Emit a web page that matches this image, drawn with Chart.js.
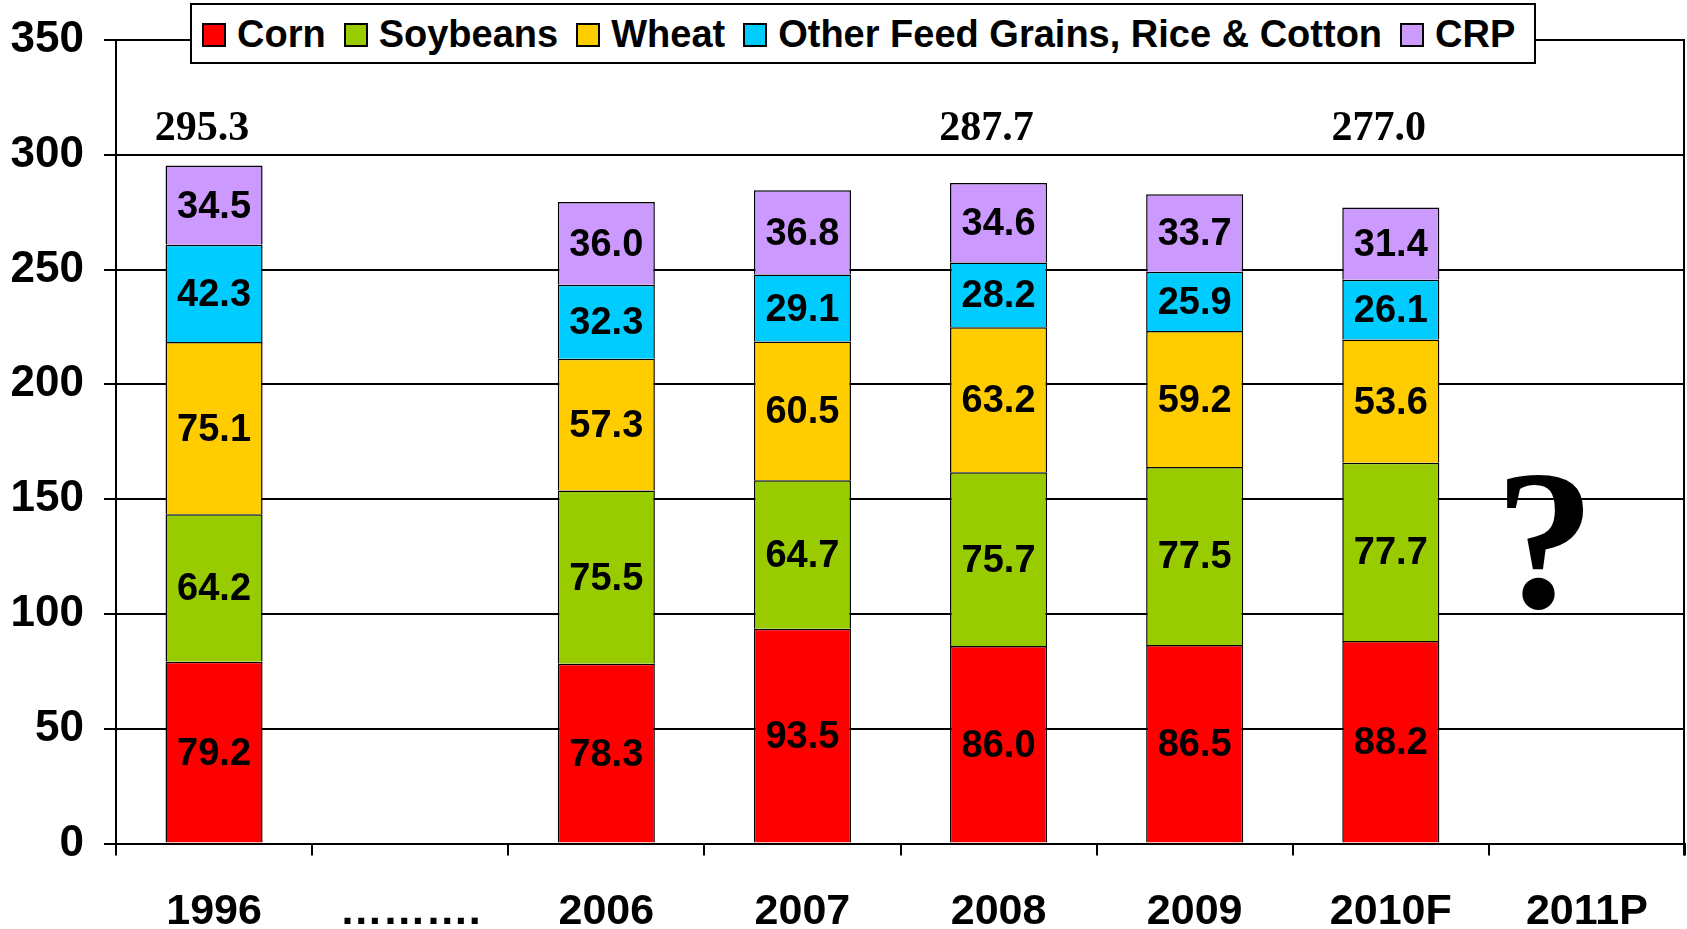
<!DOCTYPE html>
<html>
<head>
<meta charset="utf-8">
<script src="https://cdn.jsdelivr.net/npm/chart.js@4"></script>
<style>
  html, body { margin: 0; padding: 0; background: #fff; }
  #wrap { position: relative; width: 1687px; height: 929px; overflow: hidden; }
  #legend {
    position: absolute; left: 190px; top: 3px; width: 1342px; height: 55px;
    border: 2px solid #000; background: #fff; box-sizing: content-box;
    display: flex; align-items: center; padding-left: 0; padding-top: 2px;
    font: bold 38px "Liberation Sans", Arial, sans-serif; color: #000;
  }
  .item { display: flex; align-items: center; margin-left: 10px; margin-right: 8px; white-space: nowrap; }
  .sw { width: 20px; height: 20px; border: 2px solid #000; margin-right: 11px; }
</style>
</head>
<body>
<div id="wrap">
  <canvas id="c" width="1687" height="929"></canvas>
  <div id="legend"></div>
</div>
<script>
const categories = ['1996', '……….', '2006', '2007', '2008', '2009', '2010F', '2011P'];
const corn     = [79.2, null, 78.3, 93.5, 86.0, 86.5, 88.2, null];
const soybeans = [64.2, null, 75.5, 64.7, 75.7, 77.5, 77.7, null];
const wheat    = [75.1, null, 57.3, 60.5, 63.2, 59.2, 53.6, null];
const other    = [42.3, null, 32.3, 29.1, 28.2, 25.9, 26.1, null];
const crp      = [34.5, null, 36.0, 36.8, 34.6, 33.7, 31.4, null];
const totals   = [295.3, null, null, null, 287.7, null, 277.0, null];
const seriesNames = ['Corn', 'Soybeans', 'Wheat', 'Other Feed Grains, Rice & Cotton', 'CRP'];
const seriesColors = ['#FF0000', '#99CC00', '#FFCC00', '#00CCFF', '#CC99FF'];
const yTicks = [0, 50, 100, 150, 200, 250, 300, 350];

const SANS = '"Liberation Sans", Arial, sans-serif';
const SERIF = '"Liberation Serif", "Times New Roman", serif';

// HTML legend
const leg = document.getElementById('legend');
seriesNames.forEach((n, i) => {
  const it = document.createElement('div'); it.className = 'item';
  const sw = document.createElement('div'); sw.className = 'sw'; sw.style.background = seriesColors[i];
  const tx = document.createElement('span'); tx.textContent = n;
  it.appendChild(sw); it.appendChild(tx); leg.appendChild(it);
});

const seriesData = [corn, soybeans, wheat, other, crp];
const datasets = seriesData.map((d, i) => ({
  label: seriesNames[i],
  data: d,
  backgroundColor: seriesColors[i],
  borderColor: '#000',
  borderWidth: 1.5,
  barPercentage: 0.495,
  categoryPercentage: 1.0
}));

const labelPlugin = {
  id: 'labels',
  afterDatasetsDraw(chart) {
    const ctx = chart.ctx;
    const ys = chart.scales.y, xs = chart.scales.x;
    ctx.save();
    ctx.fillStyle = '#000';
    ctx.textAlign = 'center';
    ctx.textBaseline = 'middle';
    ctx.font = 'bold 38px ' + SANS;
    chart.data.datasets.forEach((ds, di) => {
      const meta = chart.getDatasetMeta(di);
      meta.data.forEach((el, i) => {
        const v = ds.data[i];
        if (v == null) return;
        ctx.fillText(v.toFixed(1), el.x, (el.y + el.base) / 2 + 2);
      });
    });
    // totals
    ctx.font = 'bold 42px ' + SERIF;
    totals.forEach((t, i) => {
      if (t == null) return;
      ctx.fillText(t.toFixed(1), xs.getPixelForValue(i) - 12, ys.getPixelForValue(311));
    });
    // question mark for 2011P
    ctx.textBaseline = 'alphabetic';
    ctx.font = 'bold 200px ' + SERIF;
    ctx.fillText('?', xs.getPixelForValue(7) - 42, ys.getPixelForValue(103));
    // right border
    const a = chart.chartArea;
    ctx.strokeStyle = '#000';
    ctx.lineWidth = 2;
    ctx.beginPath();
    ctx.moveTo(a.right - 1, a.top);
    ctx.lineTo(a.right - 1, a.bottom + 12);
    ctx.stroke();
    ctx.restore();
  }
};

new Chart(document.getElementById('c'), {
  type: 'bar',
  data: { labels: categories, datasets },
  options: {
    responsive: false,
    devicePixelRatio: 1,
    animation: false,
    layout: { padding: { top: 40, right: 2, left: 0, bottom: 0 } },
    plugins: { legend: { display: false }, tooltip: { enabled: false } },
    scales: {
      x: {
        stacked: true,
        grid: { drawOnChartArea: false, drawTicks: true, tickLength: 12, color: '#000', lineWidth: 2, offset: true },
        border: { display: true, color: '#000', width: 2 },
        ticks: { color: '#000', font: { family: SANS, weight: 'bold', size: 43 }, padding: 31, maxRotation: 0, autoSkip: false },
        afterFit(s) { s.height = 85.5; }
      },
      y: {
        stacked: true,
        min: 0, max: 350,
        afterBuildTicks(s) { s.ticks = yTicks.map(v => ({ value: v })); },
        grid: { color: '#000', lineWidth: 2, tickLength: 12 },
        border: { display: true, color: '#000', width: 2 },
        ticks: { color: '#000', font: { family: SANS, weight: 'bold', size: 44, lineHeight: 1 }, padding: 20 },
        afterFit(s) { s.width = 116; s.paddingTop = 0; s.paddingBottom = 0; }
      }
    }
  },
  plugins: [labelPlugin]
});
</script>
</body>
</html>
